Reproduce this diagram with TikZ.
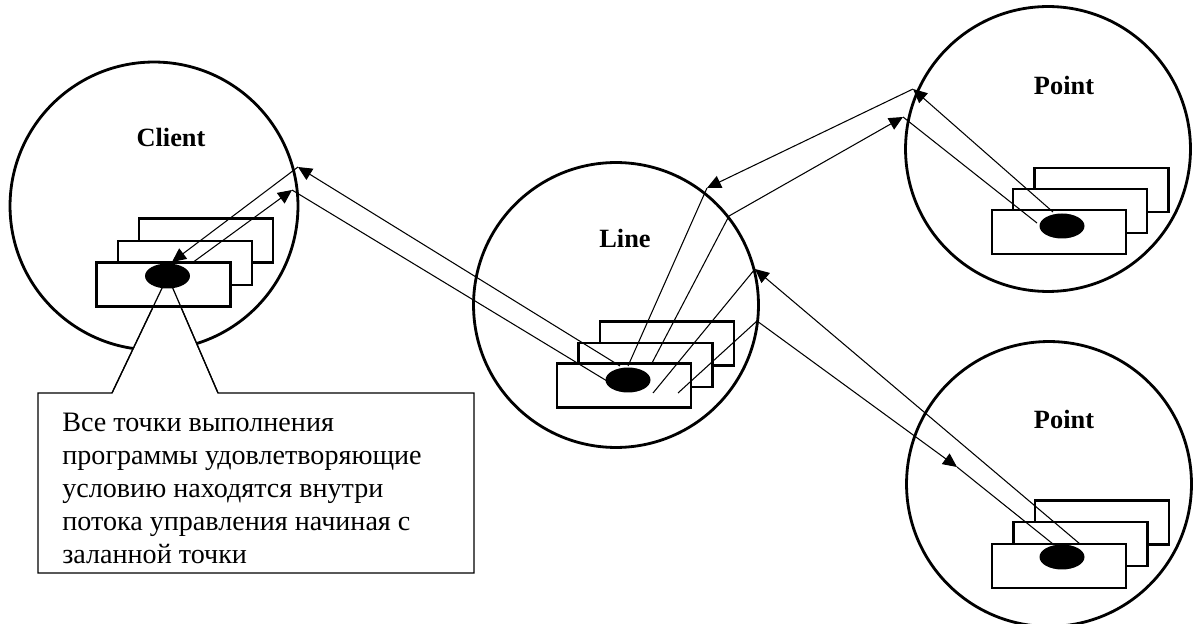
\documentclass[tikz,border=0pt]{standalone}
\usepackage{fontspec}
\setmainfont{Liberation Serif}
\usetikzlibrary{positioning,shapes.geometric,arrows.meta}

\tikzset{
  zone/.style={draw, circle, line width=1.6pt, minimum size=5.7cm, inner sep=0pt},
  card/.style={draw, fill=white, line width=1.5pt, minimum width=2.68cm, minimum height=0.88cm, inner sep=0pt},
  blob/.style={ellipse, fill=black, minimum width=0.9cm, minimum height=0.5cm, inner sep=0pt},
  title/.style={font=\fontsize{15}{18}\selectfont\bfseries},
  flow/.style={line width=0.6pt},
  tip/.style={-{Triangle[length=2.8mm,width=2.6mm]}},
}

\begin{document}
\begin{tikzpicture}[x=0.02cm,y=-0.02cm]
\useasboundingbox (0,0) rectangle (1193,624);
%
\node[zone, minimum size=5.76cm] (client) at (154,206) {};
\node[zone] (line) at (616,305) {};
\node[zone] (pointA) at (1048,149) {};
\node[zone] (pointB) at (1049,484) {};
%
% callout under the client
\coordinate (nl) at (112,393);
\coordinate (nr) at (218,393);
\filldraw[fill=white, line width=0.7pt] (38,393) -- (nl) -- (164,284) -- (171,284) -- (nr)
  -- (474,393) -- (474,573) -- (38,573) -- cycle;
%
% stacks of frames
\node[card] (cback) at (206,240.5) {};
\node[card] (cmid) at (185,263) {};
\node[card] (cfront) at (163.5,284.5) {};
\node[card] (lback) at (667,343.5) {};
\node[card] (lmid) at (645.5,365) {};
\node[card] (lfront) at (624,385.5) {};
\node[card] (aback) at (1101.5,190) {};
\node[card] (amid) at (1080,211) {};
\node[card] (afront) at (1059,232) {};
\node[card] (bback) at (1102,522.5) {};
\node[card] (bmid) at (1080.5,544) {};
\node[card] (bfront) at (1059,566) {};
%
\draw[line width=0.7pt] (nl) -- (164,284);
\draw[line width=0.7pt] (nr) -- (171,284);
%
% points on the rims
\coordinate (cu) at (298,167);
\coordinate (cd) at (292,190);
\coordinate (la) at (707,188);
\coordinate (lb) at (729,216);
\coordinate (lc) at (755,269);
\coordinate (ld) at (757,321);
\coordinate (pa) at (913,89);
\coordinate (pb) at (903,117);
\coordinate (qm) at (957,467);
%
% ends at the marks
\coordinate (cin) at (172,262);
\coordinate (cout) at (192,263);
\coordinate (l1) at (620,366);
\coordinate (l2) at (607,381);
\coordinate (l3) at (628,366);
\coordinate (l4) at (652,363);
\coordinate (l5) at (653,393);
\coordinate (l6) at (678,393);
\coordinate (a1) at (1053,212);
\coordinate (a2) at (1037,223);
\coordinate (b1) at (1080,544);
\coordinate (b2) at (1053,544);
%
\draw[flow,tip] (l1) -- (cu);
\draw[flow,tip] (cu) -- (cin);
\draw[flow,tip] (cout) -- (cd);
\draw[flow] (cd) -- (l2);
%
\draw[flow,tip] (a1) -- (pa);
\draw[flow,tip] (pa) -- (la);
\draw[flow] (la) -- (l3);
\draw[flow] (l4) -- (lb);
\draw[flow,tip] (lb) -- (pb);
\draw[flow] (pb) -- (a2);
%
\draw[flow,tip] (b1) -- (lc);
\draw[flow] (lc) -- (l5);
\draw[flow] (l6) -- (ld);
\draw[flow,tip] (ld) -- (qm);
\draw[flow] (qm) -- (b2);
%
\node[blob] (cdot) at (167.5,276) {};
\node[blob] (ldot) at (628,380) {};
\node[blob] (adot) at (1062,226) {};
\node[blob] (bdot) at (1062,557) {};
%
\node[title] (clientname) at (171,137) {Client};
\node[title] (linename) at (625,238) {Line};
\node[title] (pointAname) at (1064,85) {Point};
\node[title] (pointBname) at (1064,419) {Point};
%
\node[anchor=north west, align=left, inner sep=0pt, font=\fontsize{16}{18.7}\selectfont] (note) at (62,413)
  {Все точки выполнения\\программы удовлетворяющие\\условию находятся внутри\\потока управления начиная с\\заланной точки};
\end{tikzpicture}
\end{document}
